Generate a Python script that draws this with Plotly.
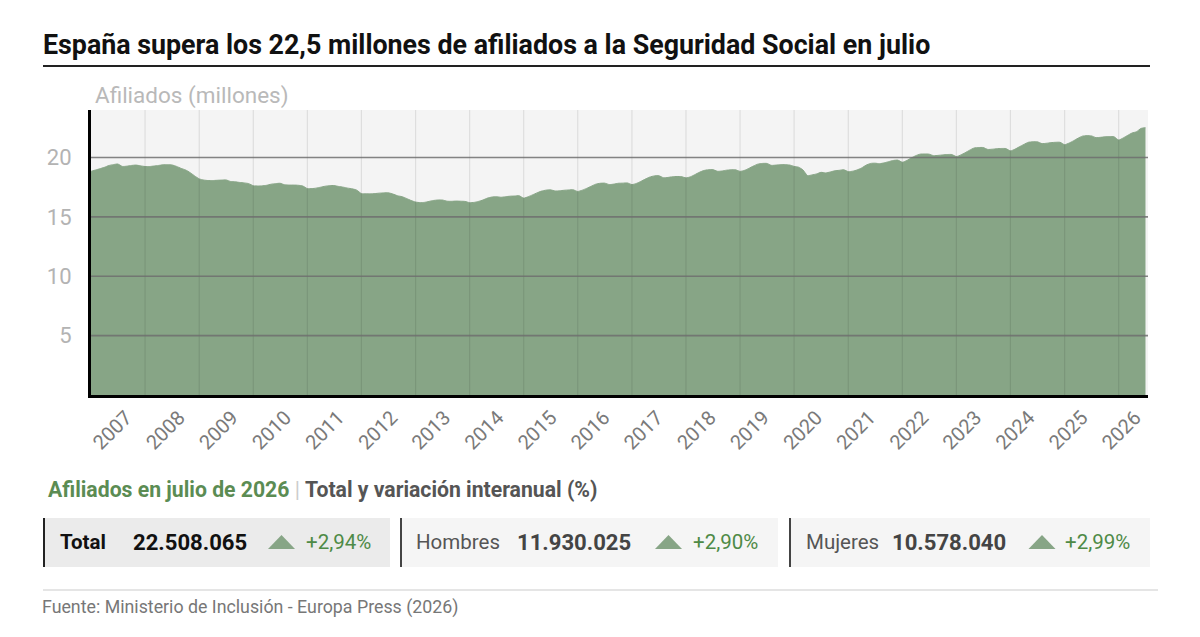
import plotly.graph_objects as go
import pandas as pd

# ---------------- DATA ----------------
start_month = "2007-01-01"
afiliados = [
    # 2007
    18.83, 18.95, 19.05, 19.17, 19.32, 19.40, 19.45, 19.25, 19.27, 19.33, 19.36, 19.30,
    # 2008
    19.24, 19.24, 19.28, 19.33, 19.38, 19.40, 19.37, 19.25, 19.08, 18.95, 18.72, 18.45,
    # 2009
    18.20, 18.10, 18.06, 18.06, 18.08, 18.10, 18.11, 17.98, 17.95, 17.90, 17.86, 17.80,
    # 2010
    17.62, 17.60, 17.61, 17.66, 17.75, 17.80, 17.83, 17.70, 17.68, 17.68, 17.66, 17.60,
    # 2011
    17.38, 17.38, 17.42, 17.50, 17.58, 17.63, 17.64, 17.56, 17.50, 17.42, 17.36, 17.25,
    # 2012
    16.96, 16.94, 16.94, 16.96, 17.00, 17.02, 17.03, 16.92, 16.78, 16.70, 16.55, 16.38,
    # 2013
    16.25, 16.20, 16.22, 16.30, 16.38, 16.42, 16.42, 16.32, 16.31, 16.33, 16.32, 16.30,
    # 2014
    16.20, 16.22, 16.30, 16.42, 16.58, 16.67, 16.70, 16.65, 16.70, 16.74, 16.76, 16.78,
    # 2015
    16.58, 16.70, 16.85, 17.02, 17.17, 17.25, 17.28, 17.18, 17.20, 17.24, 17.27, 17.28,
    # 2016
    17.14, 17.25, 17.40, 17.58, 17.75, 17.83, 17.84, 17.72, 17.76, 17.83, 17.84, 17.86,
    # 2017
    17.72, 17.82, 17.98, 18.18, 18.35, 18.45, 18.47, 18.30, 18.32, 18.38, 18.40, 18.39,
    # 2018
    18.28, 18.38, 18.55, 18.75, 18.90, 18.97, 18.98, 18.84, 18.86, 18.93, 18.96, 18.97,
    # 2019
    18.83, 18.92, 19.08, 19.28, 19.44, 19.50, 19.50, 19.34, 19.36, 19.40, 19.39, 19.37,
    # 2020
    19.25, 19.18, 18.95, 18.48, 18.53, 18.62, 18.75, 18.70, 18.78, 18.88, 18.92, 18.97,
    # 2021
    18.81, 18.85, 18.95, 19.12, 19.35, 19.50, 19.52, 19.48, 19.55, 19.65, 19.75, 19.78,
    # 2022
    19.60, 19.75, 19.95, 20.15, 20.28, 20.30, 20.28, 20.15, 20.18, 20.22, 20.25, 20.25,
    # 2023
    20.08, 20.22, 20.40, 20.62, 20.80, 20.84, 20.84, 20.68, 20.70, 20.74, 20.76, 20.75,
    # 2024
    20.56, 20.70, 20.90, 21.10, 21.28, 21.32, 21.32, 21.17, 21.20, 21.25, 21.28, 21.28,
    # 2025
    21.08, 21.22, 21.40, 21.62, 21.80, 21.84, 21.82, 21.67, 21.70, 21.74, 21.76, 21.74,
    # 2026
    21.47, 21.65, 21.85, 22.06, 22.17, 22.45, 22.51,
]
years = list(range(2007, 2027))
y_ticks = [5, 10, 15, 20]

kpi_labels = ["Total", "Hombres", "Mujeres"]
kpi_values = ["22.508.065", "11.930.025", "10.578.040"]
kpi_changes = ["+2,94%", "+2,90%", "+2,99%"]

months = pd.date_range(start_month, periods=len(afiliados), freq="MS")

# ---------------- STYLE ----------------
FONT = "Roboto"
GREEN_FILL = "#87a586"
GREEN_TEXT = "#4e8a46"
W, H = 1200, 637
OFF = 8  # page body margin
# plot area in window pixels
PL, PR, PT, PB = 91, 1148, 110, 395
L, R, T, B = PL - OFF, PR - OFF, PT - OFF, PB - OFF


def fx(px):
    return (px - OFF - L) / (R - L)


def fy(py):
    return (B - (py - OFF)) / (B - T)


# x tick label positions (window px -> months from start), label ends right after tick
px_per_month = (PR - PL - 2.5) / (len(afiliados) - 1)
tick_pos = []
for k, yr in enumerate(years):
    m = (126 + 53.1 * k - PL) / px_per_month
    tick_pos.append(pd.Timestamp(start_month) + pd.Timedelta(days=m * 30.437))

fig = go.Figure()
fig.add_trace(go.Scatter(
    x=months, y=afiliados, mode="lines", fill="tozeroy",
    line=dict(color=GREEN_FILL, width=1, shape="spline", smoothing=0.6),
    fillcolor=GREEN_FILL, hoverinfo="skip", showlegend=False,
))

shapes = []
for yr in years[1:]:
    shapes.append(dict(type="line", xref="x", yref="paper", x0=f"{yr}-01-01", x1=f"{yr}-01-01",
                       y0=0, y1=1, line=dict(color="rgba(0,0,0,0.09)", width=1.2), layer="above"))
for v in y_ticks:
    shapes.append(dict(type="line", xref="paper", yref="y", x0=0, x1=1, y0=v, y1=v,
                       line=dict(color="rgba(110,110,110,0.85)", width=1.6), layer="above"))

shapes.append(dict(type="line", xref="paper", yref="paper", x0=fx(43), x1=fx(1150), y0=fy(66), y1=fy(66),
                   line=dict(color="#222", width=2)))
boxes = [(43, 390, "#ebebeb", "#222"), (400, 778, "#f5f5f5", "#444"), (789, 1150, "#f5f5f5", "#444")]
for x0, x1, fill, border in boxes:
    shapes.append(dict(type="rect", xref="paper", yref="paper", x0=fx(x0), x1=fx(x1), y0=fy(567), y1=fy(518),
                       fillcolor=fill, line=dict(width=0), layer="below"))
    shapes.append(dict(type="line", xref="paper", yref="paper", x0=fx(x0 + 1), x1=fx(x0 + 1), y0=fy(567), y1=fy(518),
                       line=dict(color=border, width=2)))
for cx in [281.5, 668.5, 1042]:
    shapes.append(dict(type="path", xref="paper", yref="paper",
                       path=f"M {fx(cx-13.5)},{fy(549)} L {fx(cx+13.5)},{fy(549)} L {fx(cx)},{fy(535)} Z",
                       fillcolor=GREEN_FILL, line=dict(width=0)))
shapes.append(dict(type="line", xref="paper", yref="paper", x0=fx(43), x1=fx(1158), y0=fy(590), y1=fy(590),
                   line=dict(color="#dddddd", width=1.5)))

annotations = []


def ann(px, py, text, size, color, bold=False, anchor="left"):
    if bold:
        text = f"<b>{text}</b>"
    annotations.append(dict(xref="paper", yref="paper", x=fx(px), y=fy(py), text=text, showarrow=False,
                            xanchor=anchor, yanchor="middle", font=dict(family=FONT, size=size, color=color)))


ann(41, 45, "España supera los 22,5 millones de afiliados a la Seguridad Social en julio", 26.8, "#111", bold=True)
ann(93, 95, "Afiliados (millones)", 22.5, "#b9b9b9")
ann(46, 489,
    f"<b><span style='color:#5b8c53'>Afiliados en julio de 2026</span></b>"
    f"<span style='color:#cccccc'> | </span>"
    f"<b><span style='color:#555555'>Total y variación interanual (%)</span></b>", 21.2, "#555")

label_x = [58, 414, 804]
value_x = [131, 515, 890]
change_x = [304, 691, 1063]
for i in range(3):
    if i == 0:
        ann(label_x[i], 542, kpi_labels[i], 20.5, "#111", bold=True)
        ann(value_x[i], 542, kpi_values[i], 22.1, "#111", bold=True)
    else:
        ann(label_x[i], 542, kpi_labels[i], 20.5, "#555")
        ann(value_x[i], 542, kpi_values[i], 22.1, "#444", bold=True)
    ann(change_x[i], 542, kpi_changes[i], 20.5, GREEN_TEXT)

ann(40, 607, "Fuente: Ministerio de Inclusión - Europa Press (2026)", 17.8, "#777")

fig.update_layout(
    width=W, height=H,
    margin=dict(l=L, r=W - R, t=T, b=H - B, pad=0),
    paper_bgcolor="white", plot_bgcolor="#f4f4f4",
    font=dict(family=FONT),
    shapes=shapes, annotations=annotations,
    xaxis=dict(
        type="date", range=[months[0], months[-1] + pd.Timedelta(days=17)],
        tickvals=tick_pos, ticktext=[str(y) for y in years],
        tickangle=-45, tickfont=dict(family=FONT, size=20, color="#7a7a7a"),
        showgrid=False, zeroline=False,
        showline=True, linecolor="black", linewidth=3, layer="above traces",
        ticks="", fixedrange=True,
    ),
    yaxis=dict(
        range=[0, 24], tickvals=y_ticks, ticktext=[str(v) for v in y_ticks],
        tickfont=dict(family=FONT, size=22, color="#b3b3b3"),
        showgrid=False, zeroline=False,
        showline=True, linecolor="black", linewidth=3, layer="above traces",
        ticks="outside", ticklen=12, tickcolor="rgba(0,0,0,0)", fixedrange=True,
    ),
)

fig.write_html("out.html")
